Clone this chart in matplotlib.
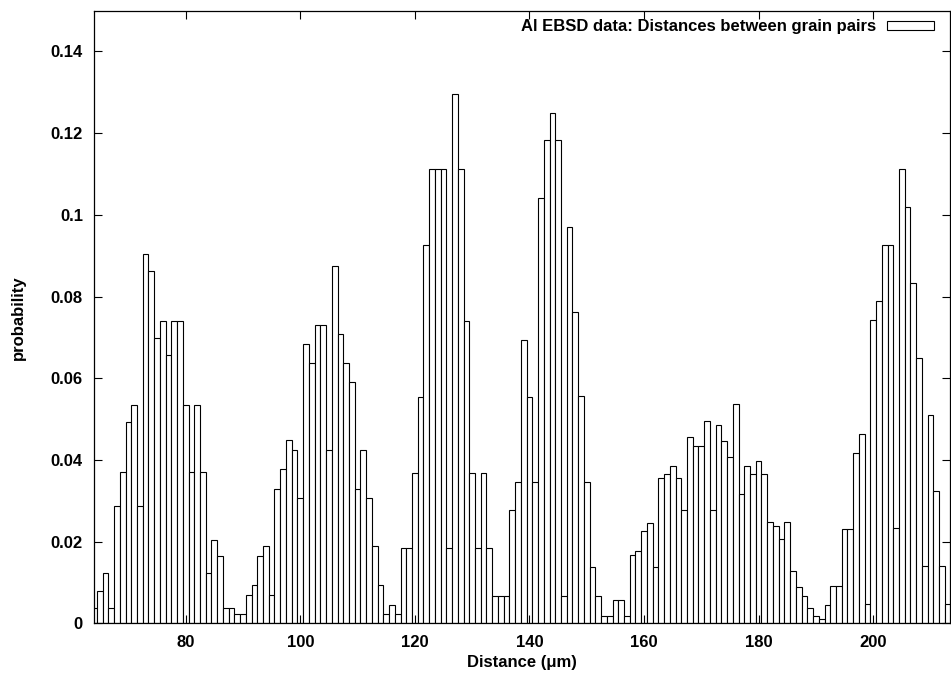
import matplotlib
matplotlib.use("Agg")
import matplotlib.pyplot as plt
from matplotlib.patches import Rectangle

plt.rcParams['font.family'] = ['Liberation Sans', 'DejaVu Sans']
plt.rcParams['font.weight'] = 'bold'

# Histogram bin centres (µm) and probabilities
distance = list(range(64, 214))
probability = [
    0.0038, 0.0080, 0.0122, 0.0038, 0.0286, 0.0370, 0.0494, 0.0535, 0.0286, 0.0904,  # 64-73
    0.0863, 0.0699, 0.0740, 0.0658, 0.0740, 0.0740, 0.0535, 0.0370, 0.0535, 0.0370,  # 74-83
    0.0122, 0.0205, 0.0164, 0.0038, 0.0038, 0.0022, 0.0022, 0.0069, 0.0093, 0.0164,  # 84-93
    0.0189, 0.0069, 0.0330, 0.0377, 0.0448, 0.0425, 0.0307, 0.0685, 0.0637, 0.0731,  # 94-103
    0.0731, 0.0425, 0.0874, 0.0708, 0.0637, 0.0590, 0.0330, 0.0425, 0.0307, 0.0189,  # 104-113
    0.0093, 0.0022, 0.0046, 0.0022, 0.0184, 0.0184, 0.0369, 0.0555, 0.0927, 0.1111,  # 114-123
    0.1111, 0.1111, 0.0184, 0.1296, 0.1111, 0.0740, 0.0369, 0.0184, 0.0369, 0.0184,  # 124-133
    0.0068, 0.0068, 0.0068, 0.0277, 0.0345, 0.0694, 0.0555, 0.0345, 0.1042, 0.1182,  # 134-143
    0.1249, 0.1182, 0.0068, 0.0971, 0.0763, 0.0556, 0.0347, 0.0137, 0.0068, 0.0019,  # 144-153
    0.0019, 0.0058, 0.0058, 0.0019, 0.0168, 0.0178, 0.0227, 0.0246, 0.0137, 0.0356,  # 154-163
    0.0366, 0.0386, 0.0356, 0.0277, 0.0455, 0.0435, 0.0435, 0.0495, 0.0277, 0.0485,  # 164-173
    0.0446, 0.0406, 0.0536, 0.0316, 0.0386, 0.0366, 0.0397, 0.0366, 0.0247, 0.0237,  # 174-183
    0.0207, 0.0247, 0.0127, 0.0088, 0.0068, 0.0038, 0.0019, 0.0010, 0.0044, 0.0092,  # 184-193
    0.0092, 0.0230, 0.0230, 0.0416, 0.0463, 0.0047, 0.0742, 0.0788, 0.0927, 0.0927,  # 194-203
    0.0233, 0.1112, 0.1020, 0.0834, 0.0649, 0.0140, 0.0510, 0.0325, 0.0140, 0.0047,  # 204-213
]

x_ticks = [80, 100, 120, 140, 160, 180, 200]
x_tick_labels = ["80", "100", "120", "140", "160", "180", "200"]
y_ticks = [0, 0.02, 0.04, 0.06, 0.08, 0.1, 0.12, 0.14]
y_tick_labels = ["0", "0.02", "0.04", "0.06", "0.08", "0.1", "0.12", "0.14"]

legend_label = "Al EBSD data: Distances between grain pairs"
x_label = "Distance (\u03bcm)"
y_label = "probability"

W, H = 951, 679
fig = plt.figure(figsize=(W / 100, H / 100), dpi=100)
ax = fig.add_axes([94 / W, 1 - 623.3 / H, (950 - 94) / W, (623.3 - 10.6) / H])

ax.bar(distance, probability, width=1.0, align='center', color='white',
       edgecolor='black', linewidth=0.8, label=legend_label)

ax.set_xlim(64, 213.4)
ax.set_ylim(0, 0.15)

ax.set_xticks(x_ticks)
ax.set_xticklabels(x_tick_labels)
ax.set_yticks(y_ticks)
ax.set_yticklabels(y_tick_labels)

ax.tick_params(axis='both', which='major', direction='in', length=6, width=0.8,
               labelsize=12, top=True, right=True)
ax.tick_params(axis='x', pad=8.5)
ax.tick_params(axis='y', pad=8)
for s in ax.spines.values():
    s.set_linewidth(0.9)

ax.set_xlabel(x_label, fontsize=12, fontweight='bold')
ax.xaxis.label.set_va('center')
ax.xaxis.set_label_coords(0.5, (623.3 - 662) / 612.7)
ax.set_ylabel(y_label, fontsize=12, fontweight='bold')
ax.yaxis.label.set_va('center')
ax.yaxis.label.set_ha('center')
ax.yaxis.set_label_coords((18 - 94) / 856, 0.498)

leg = ax.legend(loc='center right', bbox_to_anchor=(934 / W, 1 - 27 / H),
                bbox_transform=fig.transFigure, frameon=False, markerfirst=False,
                borderpad=0, borderaxespad=0, handlelength=2.8, handleheight=0.42,
                handletextpad=0.7, prop={'size': 12, 'weight': 'bold'})

fig.savefig("out.png", dpi=100)
